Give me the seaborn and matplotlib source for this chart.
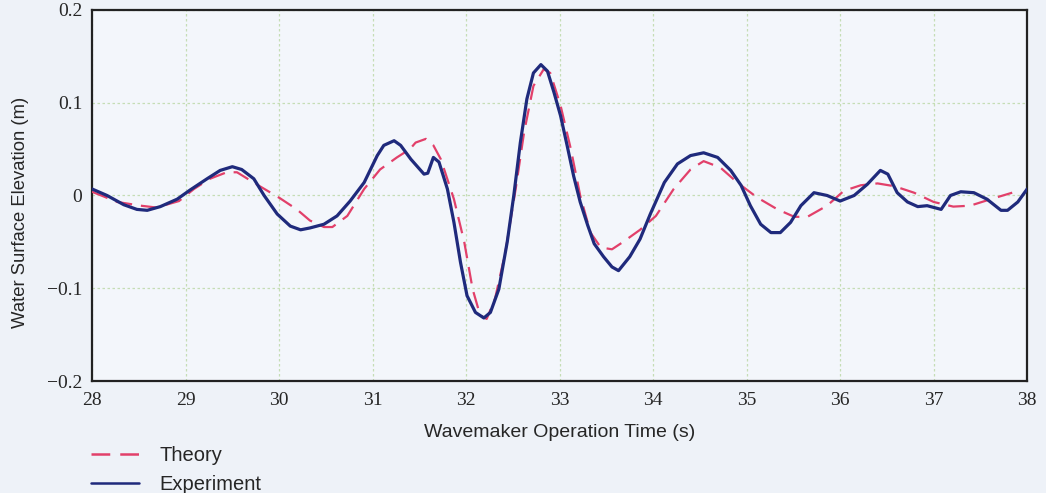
import numpy as np
import pandas as pd
import matplotlib
matplotlib.use("Agg")
import matplotlib.pyplot as plt
import seaborn as sns

# Experiment (measured) trace
exp_t = [28.0, 28.16, 28.34, 28.48, 28.59, 28.73, 28.91, 29.05, 29.23, 29.37, 29.50, 29.60, 29.73,
         29.84, 29.98, 30.12, 30.23, 30.33, 30.48, 30.62, 30.76, 30.91, 31.05, 31.12, 31.23, 31.30,
         31.41, 31.55, 31.59, 31.65, 31.71, 31.80, 31.87, 31.94, 32.01, 32.10, 32.19, 32.26, 32.35,
         32.44, 32.51, 32.58, 32.65, 32.72, 32.80, 32.87, 32.94, 33.01, 33.08, 33.15, 33.22, 33.30,
         33.37, 33.47, 33.56, 33.63, 33.75, 33.86, 33.97, 34.12, 34.26, 34.40, 34.54, 34.69, 34.83,
         34.94, 35.04, 35.15, 35.26, 35.36, 35.47, 35.58, 35.72, 35.86, 36.00, 36.15, 36.29, 36.43,
         36.51, 36.61, 36.72, 36.83, 36.93, 37.08, 37.18, 37.29, 37.43, 37.57, 37.72, 37.79, 37.90,
         38.0]
exp_y = [0.007, 0.0, -0.010, -0.015, -0.016, -0.012, -0.004, 0.006, 0.018, 0.027, 0.031, 0.028, 0.018,
         0.0, -0.020, -0.033, -0.037, -0.035, -0.031, -0.022, -0.006, 0.014, 0.043, 0.054, 0.059, 0.054,
         0.039, 0.023, 0.024, 0.041, 0.036, 0.007, -0.029, -0.072, -0.108, -0.126, -0.132, -0.126, -0.101,
         -0.050, 0.0, 0.057, 0.104, 0.132, 0.141, 0.134, 0.111, 0.086, 0.054, 0.021, -0.007, -0.032,
         -0.052, -0.066, -0.077, -0.081, -0.066, -0.047, -0.020, 0.014, 0.034, 0.043, 0.046, 0.041, 0.027,
         0.011, -0.011, -0.031, -0.040, -0.040, -0.029, -0.011, 0.003, 0.0, -0.006, 0.0, 0.012, 0.027,
         0.023, 0.003, -0.007, -0.012, -0.011, -0.015, 0.0, 0.004, 0.003, -0.004, -0.016, -0.016, -0.007,
         0.007]

# Theory trace
theo_t = [28.0, 28.27, 28.52, 28.69, 28.93, 29.09, 29.26, 29.44, 29.55, 29.76, 30.01, 30.19, 30.33,
          30.48, 30.57, 30.73, 30.91, 31.08, 31.26, 31.40, 31.46, 31.57, 31.65, 31.73, 31.87, 31.98,
          32.07, 32.15, 32.22, 32.31, 32.42, 32.53, 32.62, 32.72, 32.83, 32.90, 33.01, 33.12, 33.22,
          33.33, 33.44, 33.56, 33.68, 33.86, 34.03, 34.22, 34.40, 34.54, 34.72, 34.90, 35.11, 35.33,
          35.51, 35.65, 35.86, 36.04, 36.22, 36.40, 36.58, 36.79, 37.00, 37.21, 37.39, 37.61, 37.84]
theo_y = [0.004, -0.007, -0.011, -0.013, -0.006, 0.007, 0.018, 0.025, 0.025, 0.012, -0.003, -0.015, -0.027,
          -0.034, -0.034, -0.022, 0.007, 0.028, 0.041, 0.050, 0.057, 0.061, 0.054, 0.039, -0.004, -0.050,
          -0.101, -0.129, -0.133, -0.111, -0.061, 0.007, 0.068, 0.118, 0.136, 0.132, 0.097, 0.050, 0.0,
          -0.040, -0.056, -0.058, -0.050, -0.037, -0.022, 0.007, 0.028, 0.037, 0.030, 0.014, -0.002, -0.015,
          -0.023, -0.023, -0.011, 0.005, 0.011, 0.013, 0.010, 0.003, -0.007, -0.012, -0.011, -0.004, 0.003]

x_ticks = [28, 29, 30, 31, 32, 33, 34, 35, 36, 37, 38]
y_ticks = [-0.2, -0.1, 0.0, 0.1, 0.2]
y_tick_labels = ["\u22120.2", "\u22120.1", "0", "0.1", "0.2"]

sns.set_style("white")
plt.rcParams['font.family'] = ['Liberation Sans', 'DejaVu Sans']

fig = plt.figure(figsize=(10.46, 4.93), dpi=100)
fig.patch.set_facecolor("#eef2f8")
ax = fig.add_axes([0.088, 0.227, 0.894, 0.753])
ax.set_facecolor("#f3f6fb")

df_t = pd.DataFrame({"t": theo_t, "y": theo_y})
df_e = pd.DataFrame({"t": exp_t, "y": exp_y})

sns.lineplot(data=df_t, x="t", y="y", ax=ax, color="#e2406a", lw=1.6,
             label="Theory", zorder=3)
ax.lines[-1].set_dashes([7.5, 4])
sns.lineplot(data=df_e, x="t", y="y", ax=ax, color="#1f2a7c", lw=2.3,
             label="Experiment", zorder=4)

ax.set_xlim(28, 38)
ax.set_ylim(-0.2, 0.2)
ax.set_xticks(x_ticks)
ax.set_yticks(y_ticks)
ax.set_xticklabels([str(v) for v in x_ticks], fontfamily="Liberation Serif", fontsize=14)
ax.set_yticklabels(y_tick_labels, fontfamily="Liberation Serif", fontsize=14)
ax.tick_params(axis="x", length=0, pad=8)
ax.tick_params(axis="y", length=0, pad=7)
ax.grid(True, color="#c5ddb5", lw=0.9, ls=(0, (2, 2)))
for s in ax.spines.values():
    s.set_color("#222222")
    s.set_linewidth(1.6)

ax.set_xlabel("Wavemaker Operation Time (s)", fontsize=14)
ax.xaxis.set_label_coords(0.5, -0.116)
ax.set_ylabel("Water Surface Elevation (m)", fontsize=13.3)
ax.yaxis.set_label_coords(-0.067, 0.455)

leg = ax.legend(loc="upper left", bbox_to_anchor=(-0.001, -0.176), frameon=False,
                fontsize=14.5, handlelength=2.4, handletextpad=1.0, labelspacing=0.5,
                borderaxespad=0, borderpad=0)
for h in leg.get_lines():
    h.set_linewidth(1.8)

fig.savefig("out.png", dpi=100, facecolor=fig.get_facecolor())
